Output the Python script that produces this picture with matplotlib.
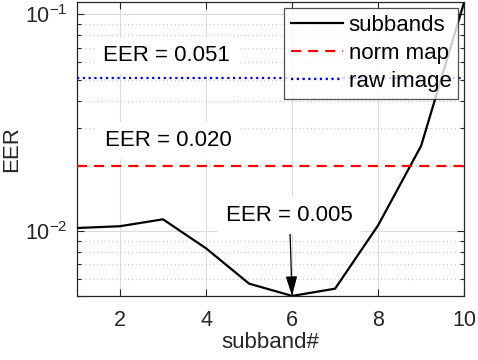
import numpy as np
import matplotlib
matplotlib.use("Agg")
import matplotlib.pyplot as plt
from matplotlib.ticker import LogLocator, NullFormatter, FixedLocator

plt.rcParams['font.family'] = ['Liberation Sans', 'DejaVu Sans']
plt.rcParams['mathtext.fontset'] = 'custom'
plt.rcParams['mathtext.rm'] = 'Liberation Sans'
plt.rcParams['mathtext.it'] = 'Liberation Sans:italic'

# data
subband = [1, 2, 3, 4, 5, 6, 7, 8, 9, 10]
eer_subbands = [0.0103, 0.0105, 0.0113, 0.0083, 0.0057, 0.0050, 0.0054, 0.0106, 0.0247, 0.114]
eer_norm_map = 0.020
eer_raw_image = 0.051
xticks = [2, 4, 6, 8, 10]

dark = '#262626'
fig = plt.figure(figsize=(4.78, 3.6), dpi=100)
ax = fig.add_axes([0.161, 0.178, 0.810, 0.816])

ax.semilogy(subband, eer_subbands, color='black', lw=1.6, label='subbands', zorder=4)
ax.axhline(eer_norm_map, color='#ff0000', lw=1.6, ls=(0, (4.5, 3.2)), label='norm map', zorder=4)
ax.axhline(eer_raw_image, color='#0000ff', lw=1.6, ls=(0, (1, 1.6)), label='raw image', zorder=4)

ax.set_xlim(1, 10)
ax.set_ylim(0.005, 0.114)
ax.xaxis.set_major_locator(FixedLocator(xticks))
ax.yaxis.set_major_locator(LogLocator(base=10))
ax.yaxis.set_minor_locator(LogLocator(base=10, subs=np.arange(2, 10)))
ax.yaxis.set_minor_formatter(NullFormatter())

ax.grid(True, which='major', color='#dcdcdc', lw=0.8, ls='-')
ax.grid(True, which='minor', axis='y', color='#c8c8c8', lw=0.8, ls=(0, (1, 2.5)))
ax.set_axisbelow(True)

ax.tick_params(which='both', direction='in', top=True, right=True, colors=dark,
               labelsize=15.5, width=0.8)
ax.tick_params(which='major', length=5)
ax.tick_params(which='minor', length=3)
ax.tick_params(axis='x', pad=10)
ax.tick_params(axis='y', pad=6.5)
for s in ax.spines.values():
    s.set_color(dark)
    s.set_linewidth(0.9)

ax.set_xlabel('subband#', fontsize=16, color=dark, labelpad=1)
ax.set_ylabel('EER', fontsize=16, color=dark, labelpad=2)

box = dict(boxstyle='square,pad=0.35', fc='white', ec='none')
ax.text(3.08, 0.0644, 'EER = 0.051', fontsize=16, ha='center', va='center', bbox=box, zorder=3)
ax.text(3.13, 0.0262, 'EER = 0.020', fontsize=16, ha='center', va='center', bbox=box, zorder=3)
ax.annotate('EER = 0.005', xy=(6, 0.005), xytext=(5.94, 0.0118), fontsize=16,
            ha='center', va='center', bbox=box, zorder=3,
            arrowprops=dict(arrowstyle='-|>,head_length=0.75,head_width=0.22',
                            color='black', lw=0.9, shrinkA=0, shrinkB=0))

leg = ax.legend(loc='upper right', fontsize=16, frameon=True, fancybox=False,
                borderpad=0.3, labelspacing=0.32, handlelength=2.34, handletextpad=0.25,
                borderaxespad=0.27)
leg.get_frame().set_edgecolor(dark)
leg.get_frame().set_linewidth(0.9)
leg.set_zorder(5)

fig.savefig('out.png', dpi=100)
